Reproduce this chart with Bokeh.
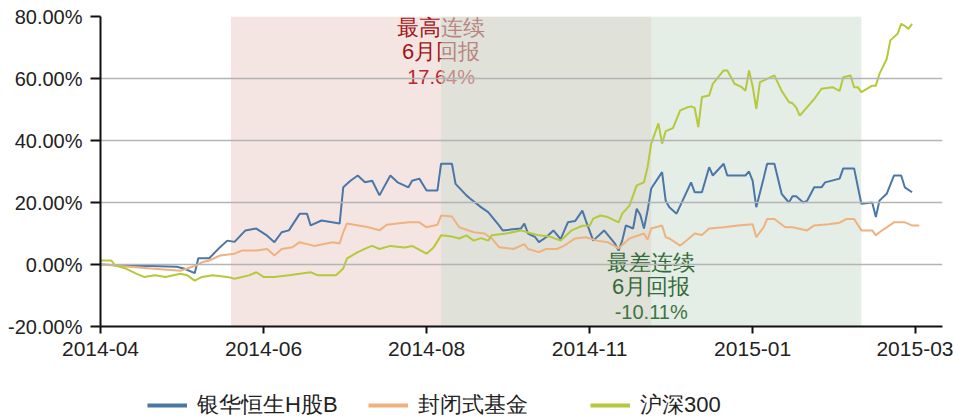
from bokeh.plotting import figure
from bokeh.layouts import column
from bokeh.models import Range1d, FixedTicker, Legend, LegendItem
from bokeh.core.properties import value
from bokeh.embed import file_html
from bokeh.resources import INLINE

# ---------------- data ----------------
tick_days = [0, 45, 90, 135, 180, 225]
tick_labels = ["2014-04", "2014-06", "2014-08", "2014-11", "2015-01", "2015-03"]
y_ticks = [-20, 0, 20, 40, 60, 80]
y_tick_labels = ["-20.00%", "0.00%", "20.00%", "40.00%", "60.00%", "80.00%"]

series_names = ["银华恒生H股B", "封闭式基金", "沪深300"]

fund_day = [0, 6, 14, 21, 23, 26, 27, 30, 33, 35, 37, 40, 43, 46, 48, 50, 52, 55, 57, 58,
            61, 66, 67, 69, 71, 73, 75, 77, 80, 82, 85, 86, 88, 90, 93, 94, 97, 98, 101, 102,
            105, 107, 110, 111, 116, 117, 118, 120, 121, 123, 125, 127, 129, 131, 133, 134,
            136, 139, 142, 143, 144, 145, 147, 148, 149, 150, 151, 152, 155, 156, 157, 159,
            163, 164, 166, 168, 169, 172, 173, 178, 179, 180, 181, 183, 184, 186, 188, 190,
            191, 192, 194, 195, 197, 199, 200, 204, 205, 208, 210, 213, 214, 215, 217, 219,
            221, 222, 224]
fund_ret = [0.0, -0.3, -0.5, -0.7, -1.3, -2.8, 2.0, 2.0, 5.6, 7.7, 7.3, 11.0, 11.6, 9.3, 7.2,
            10.4, 11.0, 16.4, 16.4, 12.6, 14.2, 13.2, 24.9, 27.0, 28.7, 26.5, 27.0, 22.3, 28.7,
            26.5, 24.9, 27.0, 27.7, 23.9, 23.9, 32.5, 32.5, 26.0, 22.3, 21.3, 18.5, 16.9, 12.6,
            11.0, 11.6, 13.2, 10.0, 8.8, 7.2, 8.8, 11.0, 8.2, 13.6, 14.0, 17.4, 14.0, 7.7, 11.0,
            6.7, 4.5, 7.7, 12.6, 11.6, 18.0, 16.0, 11.6, 17.4, 24.5, 29.8, 20.6, 18.5, 16.4,
            26.5, 23.3, 23.3, 31.4, 28.7, 32.5, 28.7, 28.7, 30.0, 27.0, 18.5, 27.7, 32.5, 32.5,
            22.8, 20.0, 22.0, 22.0, 20.0, 20.5, 24.9, 24.9, 26.5, 27.7, 31.0, 31.0, 19.6, 20.0,
            15.3, 20.6, 22.8, 28.7, 28.7, 24.9, 23.3]

closed_day = [0, 14, 22, 26, 28, 30, 33, 37, 39, 43, 46, 48, 50, 53, 55, 59, 64, 66, 67, 68,
              70, 74, 77, 79, 85, 88, 90, 93, 94, 97, 99, 103, 106, 108, 110, 114, 117, 118,
              121, 123, 126, 128, 131, 134, 137, 140, 143, 146, 150, 151, 152, 155, 156, 157,
              160, 162, 164, 166, 168, 172, 176, 180, 181, 183, 184, 186, 189, 191, 195, 197,
              201, 204, 206, 208, 210, 213, 214, 215, 219, 222, 224, 226]
closed_ret = [0.0, -1.3, -2.0, -0.5, 0.7, 1.3, 2.9, 3.5, 4.5, 4.5, 5.0, 2.9, 5.0, 5.6, 7.2,
              6.0, 7.2, 6.8, 10.4, 13.2, 12.8, 12.0, 11.0, 12.8, 13.6, 13.6, 12.0, 12.8, 15.8,
              15.5, 12.0, 10.4, 10.0, 8.4, 5.6, 5.0, 6.6, 5.0, 4.0, 5.0, 5.0, 6.1, 8.4, 8.8,
              7.7, 7.2, 5.2, 8.4, 10.0, 8.0, 11.6, 12.6, 8.8, 8.4, 6.1, 8.0, 10.0, 9.5, 11.6,
              12.0, 12.6, 13.0, 8.8, 12.0, 14.7, 14.7, 12.0, 12.0, 11.0, 12.6, 13.0, 13.5, 14.7,
              14.7, 11.0, 11.0, 9.4, 10.4, 13.6, 13.6, 12.6, 12.6]

hs300_day = [0, 3, 4, 7, 10, 12, 15, 18, 22, 24, 26, 28, 31, 35, 37, 41, 43, 45, 48, 52, 55,
             58, 60, 63, 65, 67, 68, 71, 74, 75, 77, 80, 84, 86, 90, 92, 94, 97, 99, 101, 103,
             105, 107, 108, 112, 116, 119, 121, 124, 127, 130, 133, 135, 136, 138, 140, 143,
             144, 146, 148, 150, 151, 152, 154, 155, 156, 158, 160, 162, 163, 164, 165, 166,
             168, 169, 172, 173, 175, 177, 178, 179, 180, 181, 182, 184, 186, 188, 190, 191,
             192, 193, 195, 197, 199, 202, 204, 205, 207, 208, 209, 210, 213, 214, 215, 217,
             218, 220, 221, 222, 223, 224]
hs300_ret = [1.3, 1.3, -0.3, -1.3, -3.0, -4.0, -3.5, -4.0, -3.0, -3.5, -5.2, -4.0, -3.5, -4.0,
             -4.6, -3.5, -2.5, -4.0, -4.0, -3.5, -3.0, -2.5, -3.5, -3.5, -3.5, -1.3, 1.9, 4.0,
             5.6, 6.0, 5.0, 6.0, 5.5, 6.0, 3.5, 5.6, 9.4, 9.0, 8.4, 9.4, 7.7, 8.5, 7.7, 9.4,
             10.0, 11.0, 10.0, 9.4, 9.0, 7.7, 11.0, 12.5, 12.5, 14.8, 15.8, 15.3, 13.6, 16.4,
             19.0, 25.5, 26.5, 31.4, 39.0, 45.5, 39.0, 43.0, 44.0, 49.7, 50.7, 51.0, 50.5,
             44.3, 54.0, 54.5, 58.3, 62.6, 62.6, 58.3, 57.2, 56.0, 62.6, 57.5, 50.2, 58.8,
             59.9, 61.0, 56.0, 52.4, 52.0, 50.7, 48.0, 50.7, 53.4, 56.7, 57.2, 56.0, 60.4,
             61.0, 57.2, 57.2, 55.6, 57.7, 57.7, 61.5, 66.3, 72.3, 74.4, 77.6, 77.0, 76.0, 77.6]

best_window = [36, 152]    # 最高连续6月回报 区间 (trading-day index)
worst_window = [94, 210]   # 最差连续6月回报 区间
best_lines = ["最高连续", "6月回报"]
best_value = ["17.64%"]
worst_lines = ["最差连续", "6月回报"]
worst_value = ["-10.11%"]

# ---------------- main figure ----------------
FONT = "Liberation Sans"
p = figure(width=953, height=388, output_backend="svg", toolbar_location=None,
           title=None, x_range=Range1d(0, 232.4), y_range=Range1d(y_ticks[0], y_ticks[-1]),
           min_border_left=100, min_border_right=11, min_border_top=16, min_border_bottom=62)
p.outline_line_color = None
p.background_fill_color = "white"
p.border_fill_color = "white"

# highlighted windows and the "best" annotation (faded by the overlapping window)
p.quad(left=[best_window[0]], right=[best_window[1]], bottom=[y_ticks[0]], top=[y_ticks[-1]],
       fill_color="#d6968c", fill_alpha=0.25, line_color=None, level="underlay")
p.text(x=[best_window[0] + 58] * 2, y=[76.5, 68.7], text=best_lines,
       text_font=value(FONT), text_font_size="22px", text_color="#a1141b",
       text_align="center", text_baseline="middle", level="underlay")
p.text(x=[best_window[0] + 58], y=[60.6], text=best_value,
       text_font=value(FONT), text_font_size="20px", text_color="#b8262e",
       text_align="center", text_baseline="middle", level="underlay")
p.quad(left=[worst_window[0]], right=[worst_window[1]], bottom=[y_ticks[0]], top=[y_ticks[-1]],
       fill_color="#cdded1", fill_alpha=0.55, line_color=None, level="underlay")

colors = ["#4a76a8", "#efb27f", "#b6c83c"]
series = [(fund_day, fund_ret), (closed_day, closed_ret), (hs300_day, hs300_ret)]
for (xs, ys), color in zip(series, colors):
    p.line(xs, ys, line_color=color, line_width=2)

p.text(x=[worst_window[0] + 58] * 2, y=[0.6, -7.1], text=worst_lines,
       text_font=value(FONT), text_font_size="22px", text_color="#336b38",
       text_align="center", text_baseline="middle")
p.text(x=[worst_window[0] + 58], y=[-15.2], text=worst_value,
       text_font=value(FONT), text_font_size="20px", text_color="#3f7544",
       text_align="center", text_baseline="middle")

# axes
p.xgrid.visible = False
p.ygrid.grid_line_color = "#b4b4b4"
p.ygrid.grid_line_width = 1.5
p.ygrid.level = "glyph"
p.ygrid.ticker = FixedTicker(ticks=y_ticks)

p.xaxis.ticker = FixedTicker(ticks=tick_days)
p.xaxis.major_label_overrides = {d: s for d, s in zip(tick_days, tick_labels)}
p.yaxis.ticker = FixedTicker(ticks=y_ticks)
p.yaxis.major_label_overrides = {v: s for v, s in zip(y_ticks, y_tick_labels)}
for ax, tick_out in ((p.xaxis, 7), (p.yaxis, 10)):
    ax.axis_line_color = "#111111"
    ax.axis_line_width = 2
    ax.major_tick_line_color = "#111111"
    ax.major_tick_line_width = 2
    ax.major_tick_out = tick_out
    ax.major_tick_in = 0
    ax.minor_tick_line_color = None
    ax.major_label_text_font = FONT
    ax.major_label_text_font_size = "21px"
    ax.major_label_text_color = "#222222"
    ax.major_label_standoff = 8
p.yaxis.major_label_text_font_size = "20px"

# ---------------- legend strip ----------------
# (its frame is aligned with the main frame by the column layout; its x range shows no data,
#  the series renderers exist only to provide the legend samples)
leg = figure(width=953, height=32, output_backend="svg", toolbar_location=None, title=None,
             x_range=Range1d(-3, -2), y_range=Range1d(0, 1), x_axis_location=None,
             y_axis_location=None, min_border=0)
leg.outline_line_color = None
leg.xgrid.visible = False
leg.ygrid.visible = False
legend_x = [47, 268, 490]
for name, color, (xs, ys), lx in zip(series_names, colors, series, legend_x):
    sample = leg.line(xs, ys, line_color=color, line_width=4)
    lg = Legend(items=[LegendItem(label=name, renderers=[sample])], location=(lx, 0),
                orientation="horizontal", border_line_color=None, background_fill_alpha=0,
                padding=0, margin=0, glyph_width=40, glyph_height=24, label_height=24,
                label_standoff=10, label_text_font=FONT, label_text_font_size="22px",
                label_text_color="#222222")
    leg.add_layout(lg, "center")

layout = column(p, leg, spacing=0)
open("out.html", "w").write(file_html(layout, INLINE))
